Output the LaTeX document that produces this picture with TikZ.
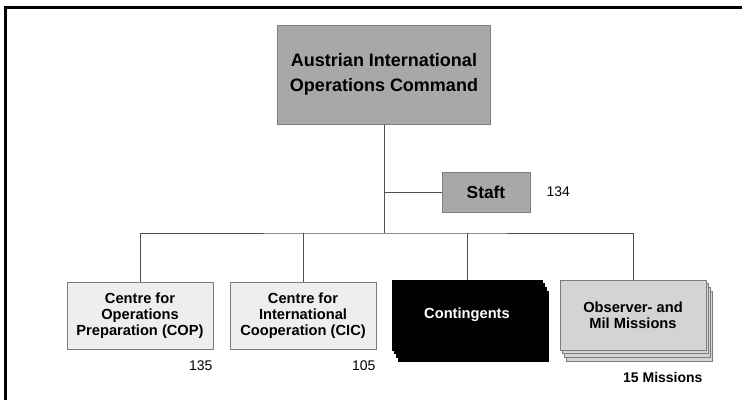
\documentclass[tikz,border=0pt]{standalone}
\usepackage{fontspec}
\setmainfont{Liberation Sans}
\usetikzlibrary{shadows}

\definecolor{cmdgray}{RGB}{168,168,168}
\definecolor{rimgray}{RGB}{125,125,125}
\definecolor{centrefill}{RGB}{238,238,238}
\definecolor{missionfill}{RGB}{212,212,212}
\definecolor{wiregray}{RGB}{80,80,80}

\tikzset{every picture/.style={line width=0.75pt}}

\begin{document}
\begin{tikzpicture}[x=0.75pt,y=0.75pt,yscale=-1,xscale=1,
  unitbox/.style={draw=rimgray,fill=centrefill,align=center,inner sep=0.75pt,
    font=\bfseries\fontsize{11}{12}\selectfont,minimum width=109.5pt,minimum height=50.25pt},
  stackbox/.style={unitbox,minimum height=52.5pt,
    copy shadow={shadow xshift=5pt,shadow yshift=-8.5pt,#1},
    copy shadow={shadow xshift=3.3pt,shadow yshift=-5.7pt,#1},
    copy shadow={shadow xshift=1.7pt,shadow yshift=-2.9pt,#1}},
  figure/.style={anchor=east,inner sep=0.75pt,font=\fontsize{10.5}{12}\selectfont},
  wire/.style={draw=wiregray}]
%set diagram size to the reference
\useasboundingbox (0,0) rectangle (742,400);

%Frame
\draw [line width=2.25pt] (5,400) -- (5,7.5) -- (742,7.5) ;

%Shape: Rectangle
\draw (384,74.5) node (aioc) [draw=rimgray,fill=cmdgray,align=center,inner sep=0.75pt,minimum width=159.75pt,minimum height=74.25pt,font=\bfseries\fontsize{13.5}{18.75}\selectfont] {Austrian International\\Operations Command};
%Shape: Rectangle
\draw (486,192) node (staff) [draw=rimgray,fill=cmdgray,inner sep=0.75pt,minimum width=66pt,minimum height=30pt,font=\bfseries\fontsize{13}{15}\selectfont] {Staft};
%Shape: Rectangle
\draw (140,315.5) node (cop) [unitbox] {Centre for\\Operations\\Preparation (COP)};
%Shape: Rectangle
\draw (303,315.5) node (cic) [unitbox] {Centre for\\International\\Cooperation (CIC)};
%Shape: Stacked Rectangle
\draw (467,315) node (cont) [stackbox={fill=black,draw=black},fill=black,draw=black,text=white,minimum width=112.5pt] {Contingents};
%Shape: Stacked Rectangle
\draw (633,315) node (obs) [stackbox={fill=missionfill,draw=rimgray},fill=missionfill] {Observer- and\\Mil Missions};

%Straight Lines
\coordinate (bus) at (384,233);
\draw [wire] (aioc.south) -- (bus) ;
\draw [wire] (aioc.south |- staff.west) -- (staff.west) ;
\draw [wire] (cop.north) |- (bus) -| (obs.north) ;
\draw [wire] (cic.north) -- (cic.north |- bus) ;
\draw [wire] (cont.north) -- (cont.north |- bus) ;

% Text Node
\draw (545,192) node (staffnum) [figure,anchor=west] {134};
% Text Node
\draw (214,366) node (copnum) [figure] {135};
% Text Node
\draw (377,366) node (cicnum) [figure] {105};
% Text Node
\draw (704,377) node (obsnum) [figure,font=\bfseries\fontsize{10.5}{12}\selectfont] {15 Missions};
\end{tikzpicture}
\end{document}
